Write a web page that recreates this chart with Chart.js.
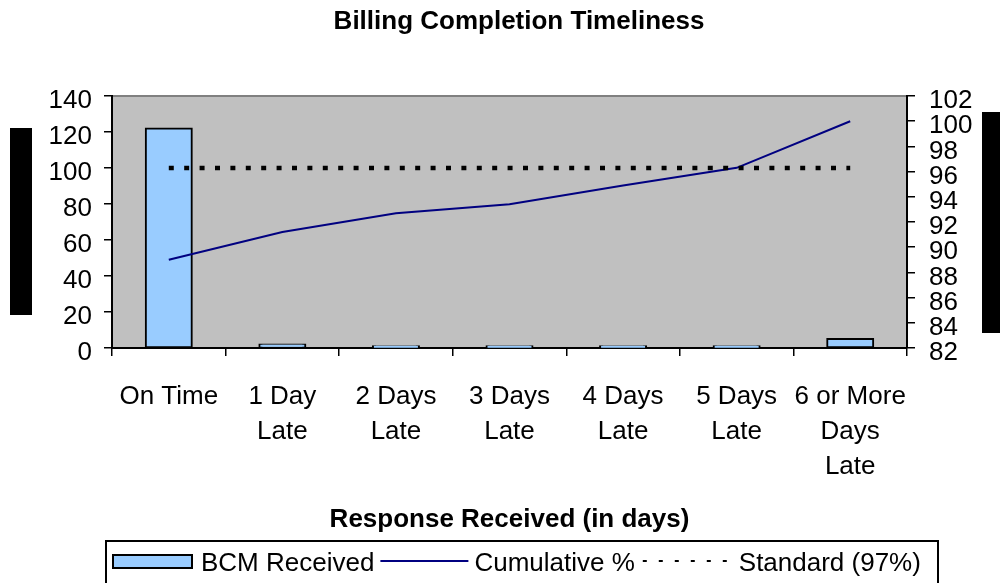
<!DOCTYPE html>
<html>
<head>
<meta charset="utf-8">
<script src="https://cdn.jsdelivr.net/npm/chart.js@4.4.0/dist/chart.umd.min.js"></script>
<style>
  html, body { margin:0; padding:0; background:#fff; }
  #wrap { width:1000px; height:583px; position:relative; overflow:hidden; }
</style>
</head>
<body>
<div id="wrap"><canvas id="chart" width="1000" height="583"></canvas></div>
<script>
// data
const categories = [['On Time'], ['1 Day','Late'], ['2 Days','Late'], ['3 Days','Late'], ['4 Days','Late'], ['5 Days','Late'], ['6 or More','Days','Late']];
const bcmReceived = [122, 2, 1, 1, 1, 1, 5];
const cumulativePct = [89.0, 91.2, 92.7, 93.4, 94.9, 96.3, 100];
const standardLine = [100, 100, 100, 100, 100, 100, 100];
const countAxis = [0, 140, 20];   // min, max, step
const pctAxis = [82, 102, 2];

const FONT = '"Liberation Sans", Arial, sans-serif';

// plot background + top frame line
const plotBg = {
  id:'plotBg',
  beforeDraw(chart){
    const {ctx, chartArea:a} = chart;
    ctx.save();
    ctx.fillStyle = '#C0C0C0';
    ctx.fillRect(a.left, a.top, a.right-a.left, a.bottom-a.top);
    ctx.strokeStyle = '#808080';
    ctx.lineWidth = 2;
    ctx.beginPath(); ctx.moveTo(a.left, a.top); ctx.lineTo(a.right, a.top); ctx.stroke();
    ctx.restore();
  }
};

// title, blacked-out axis titles, boxed legend
const extras = {
  id:'extras',
  afterDraw(chart){
    const ctx = chart.ctx;
    ctx.save();
    ctx.fillStyle = '#000';
    ctx.font = 'bold 26px ' + FONT;
    ctx.textAlign = 'center';
    ctx.textBaseline = 'middle';
    ctx.fillText('Billing Completion Timeliness', 519, 22);

    // axis title blocks (redacted in the source)
    ctx.fillRect(10, 128, 22, 187);
    ctx.fillRect(982, 112, 18, 221);

    // legend
    ctx.lineWidth = 2;
    ctx.strokeStyle = '#000';
    ctx.strokeRect(106, 541, 832, 60);
    ctx.font = '26px ' + FONT;
    ctx.textAlign = 'left';
    const cy = 561, ty = 564;
    const ds = chart.data.datasets;
    let x = 113;
    // bar swatch
    ctx.fillStyle = ds[0].backgroundColor;
    ctx.fillRect(x, cy-6, 79, 13);
    ctx.strokeRect(x, cy-6, 79, 13);
    x += 88;
    ctx.fillStyle = '#000';
    ctx.fillText(ds[0].label, x, ty);
    x += ctx.measureText(ds[0].label).width + 6;
    // solid line
    ctx.strokeStyle = ds[1].borderColor;
    ctx.lineWidth = 2;
    ctx.beginPath(); ctx.moveTo(x, cy); ctx.lineTo(x+88, cy); ctx.stroke();
    x += 94;
    ctx.fillText(ds[1].label, x, ty);
    x += ctx.measureText(ds[1].label).width + 6;
    // dotted line
    ctx.strokeStyle = '#000';
    ctx.setLineDash([4, 12]);
    ctx.beginPath(); ctx.moveTo(x+2, cy); ctx.lineTo(x+92, cy); ctx.stroke();
    ctx.setLineDash([]);
    x += 98;
    ctx.fillText(ds[2].label, x, ty);
    ctx.restore();
  }
};

new Chart(document.getElementById('chart'), {
  data: {
    labels: categories,
    datasets: [
      {
        type:'bar', label:'BCM Received', data:bcmReceived, yAxisID:'y',
        backgroundColor:'#99CCFF', borderColor:'#000', borderWidth:2, borderSkipped:false,
        inflateAmount:1, barPercentage:0.405, categoryPercentage:1.0, order:3
      },
      {
        type:'line', label:'Cumulative %', data:cumulativePct, yAxisID:'y1',
        borderColor:'#000080', borderWidth:2, pointRadius:0, tension:0, fill:false, order:2
      },
      {
        type:'line', label:'Standard (97%)', data:standardLine, yAxisID:'y',
        borderColor:'#000', borderWidth:4.5, borderDash:[5, 10.4], borderCapStyle:'butt',
        pointRadius:0, fill:false, order:1
      }
    ]
  },
  options: {
    responsive:false,
    animation:false,
    layout:{ padding:{ top:96, left:0, right:0, bottom:0 } },
    plugins:{ legend:{ display:false }, title:{ display:false }, tooltip:{ enabled:false } },
    scales:{
      x:{
        offset:true,
        grid:{ display:true, drawOnChartArea:false, drawTicks:true, tickLength:8, color:'#000', lineWidth:1.5, offset:true },
        border:{ display:true, color:'#000', width:2 },
        ticks:{ color:'#000', font:{ family:FONT, size:26, lineHeight:1.35 }, padding:23, maxRotation:0, autoSkip:false },
        title:{ display:true, text:'Response Received (in days)', color:'#000',
                font:{ family:FONT, size:26, weight:'bold' }, padding:{ top:0, bottom:48 } },
        afterFit(s){ s.height = 235; }
      },
      y:{
        position:'left', min:countAxis[0], max:countAxis[1],
        grid:{ display:true, drawOnChartArea:false, drawTicks:true, tickLength:8, color:'#000', lineWidth:1.5 },
        border:{ display:true, color:'#000', width:2 },
        ticks:{ stepSize:countAxis[2], autoSkip:false, color:'#000', font:{ family:FONT, size:26 }, padding:12, labelOffset:5 },
        afterFit(s){ s.width = 112; }
      },
      y1:{
        position:'right', min:pctAxis[0], max:pctAxis[1],
        grid:{ display:true, drawOnChartArea:false, drawTicks:true, tickLength:8, color:'#000', lineWidth:1.5 },
        border:{ display:true, color:'#000', width:2 },
        ticks:{ stepSize:pctAxis[2], autoSkip:false, color:'#000', font:{ family:FONT, size:26 }, padding:14, labelOffset:5 },
        afterFit(s){ s.width = 93; }
      }
    }
  },
  plugins:[plotBg, extras]
});
</script>
</body>
</html>
